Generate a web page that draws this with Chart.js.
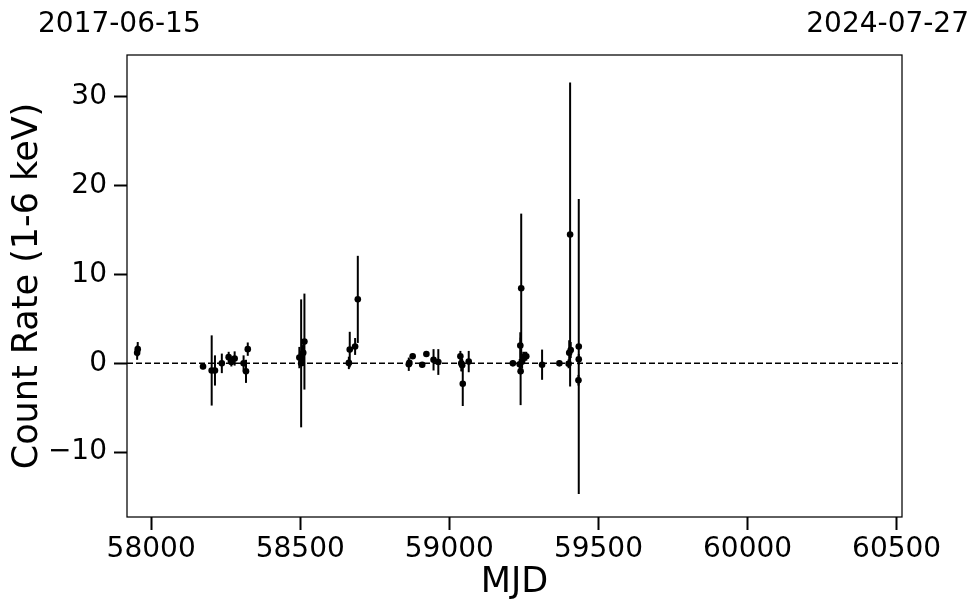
<!DOCTYPE html>
<html>
<head>
<meta charset="utf-8">
<script src="https://cdn.jsdelivr.net/npm/chart.js@4/dist/chart.umd.min.js"></script>
<style>
  html, body { margin: 0; padding: 0; background: #fff; }
  #wrap { width: 980px; height: 613px; }
</style>
</head>
<body>
<div id="wrap"><canvas id="lc" width="980" height="613"></canvas></div>
<script>
// Light curve values (MJD, rate, 1-sigma error)
const mjd = [57953, 57955, 58174, 58203, 58214, 58237, 58260, 58269, 58280, 58310,
             58318, 58324, 58497, 58503, 58506, 58510, 58514, 58663, 58666, 58684,
             58693, 58864, 58866, 58877, 58909, 58923, 58947, 58963, 59037, 59040,
             59043, 59045, 59065, 59213, 59236, 59238, 59239, 59241, 59244, 59248,
             59253, 59258, 59311, 59369, 59400, 59402, 59405, 59407, 59434, 59434,
             59433];
const rate = [1.2, 1.6, -0.35, -0.8, -0.8, 0.0, 0.7, 0.15, 0.55, 0.0,
              -0.9, 1.6, 0.65, 0.0, 1.05, 1.2, 2.45, 0.05, 1.55, 1.9,
              7.2, -0.1, 0.05, 0.8, -0.15, 1.05, 0.4, 0.15, 0.8, 0.0,
              -0.2, -2.3, 0.2, 0.0, -0.1, 2.0, -0.9, 8.45, 0.2, 0.6,
              0.8, 0.8, -0.15, 0.0, -0.05, 1.2, 14.5, 1.5, 1.9, 0.45,
              -1.9];
const rateErr = [0.8, 0.8, 0.3, 3.95, 1.7, 1.1, 0.6, 0.5, 0.8, 0.9,
                 1.3, 0.75, 1.2, 7.2, 1.0, 1.5, 5.4, 0.7, 2.0, 0.95,
                 4.9, 0.75, 0.4, 0.3, 0.3, 0.3, 1.2, 1.45, 0.6, 0.9,
                 0.7, 2.5, 1.2, 0.3, 0.6, 1.5, 3.8, 8.4, 0.8, 0.7,
                 0.5, 0.5, 1.7, 0.3, 0.5, 1.4, 17.1, 0.9, 16.6, 0.6,
                 0.6];

const xTicks = [58000, 58500, 59000, 59500, 60000, 60500];
const yTicks = [-10, 0, 10, 20, 30];
const xRange = [57919, 60518];   // 2017-06-15 .. 2024-07-27
const yRange = [-17.29, 34.7];
const dateLabels = ['2017-06-15', '2024-07-27'];

const FONT = 'DejaVu Sans';

// error bars drawn under the markers
const errorBars = {
    id: 'errorBars',
    beforeDatasetsDraw(chart) {
        const ctx = chart.ctx;
        const xs = chart.scales.x, ys = chart.scales.y;
        ctx.save();
        ctx.strokeStyle = '#000';
        ctx.lineWidth = 2;
        for (let i = 0; i < mjd.length; i++) {
            const px = xs.getPixelForValue(mjd[i]);
            ctx.beginPath();
            ctx.moveTo(px, ys.getPixelForValue(rate[i] - rateErr[i]));
            ctx.lineTo(px, ys.getPixelForValue(rate[i] + rateErr[i]));
            ctx.stroke();
        }
        ctx.restore();
    }
};

// frame round the plot and the two dates at the top corners
const frameAndDates = {
    id: 'frameAndDates',
    afterDraw(chart) {
        const ctx = chart.ctx;
        const a = chart.chartArea;
        ctx.save();
        ctx.strokeStyle = '#000';
        ctx.lineWidth = 1.25;
        ctx.strokeRect(a.left, a.top, a.right - a.left, a.bottom - a.top);
        ctx.fillStyle = '#000';
        ctx.font = '28px "' + FONT + '"';
        ctx.textBaseline = 'alphabetic';
        ctx.textAlign = 'left';
        ctx.fillText(dateLabels[0], 38, 32);
        ctx.textAlign = 'right';
        ctx.fillText(dateLabels[1], 969, 32);
        ctx.restore();
    }
};

const minus = v => String(v).replace('-', '\u2212');

new Chart(document.getElementById('lc'), {
    type: 'scatter',
    data: {
        datasets: [{
            data: mjd.map((m, i) => ({x: m, y: rate[i]})),
            backgroundColor: '#000',
            borderColor: '#000',
            pointRadius: 3.3,
            pointHoverRadius: 3.3,
            borderWidth: 0
        }, {
            type: 'line',
            data: [{x: xRange[0], y: 0}, {x: xRange[1], y: 0}],
            borderColor: '#000',
            borderWidth: 1.5,
            borderDash: [6, 3],
            pointRadius: 0,
            fill: false
        }]
    },
    options: {
        responsive: false,
        animation: false,
        layout: { padding: { left: 0, right: 78, top: 55, bottom: 0 } },
        plugins: { legend: { display: false }, tooltip: { enabled: false } },
        scales: {
            x: {
                type: 'linear',
                min: xRange[0],
                max: xRange[1],
                afterBuildTicks: s => { s.ticks = xTicks.map(v => ({value: v})); },
                afterFit: s => { s.height = 96; },
                grid: { drawOnChartArea: false, drawTicks: true, tickLength: 13, tickWidth: 2, tickColor: '#000' },
                border: { display: false },
                ticks: { color: '#000', font: { family: FONT, size: 28 }, padding: 3, maxRotation: 0,
                         callback: v => minus(v) },
                title: { display: true, text: 'MJD', color: '#000', font: { family: FONT, size: 35 },
                         padding: { top: 0, bottom: 9 } }
            },
            y: {
                min: yRange[0],
                max: yRange[1],
                afterBuildTicks: s => { s.ticks = yTicks.map(v => ({value: v})); },
                afterFit: s => { s.width = 127; },
                grid: { drawOnChartArea: false, drawTicks: true, tickLength: 13, tickWidth: 2, tickColor: '#000' },
                border: { display: false },
                ticks: { color: '#000', font: { family: FONT, size: 28 }, padding: 7,
                         callback: v => minus(v) },
                title: { display: true, text: 'Count Rate (1-6 keV)', color: '#000',
                         font: { family: FONT, size: 35 }, padding: { top: 7, bottom: 0 } }
            }
        }
    },
    plugins: [errorBars, frameAndDates]
});
</script>
</body>
</html>
